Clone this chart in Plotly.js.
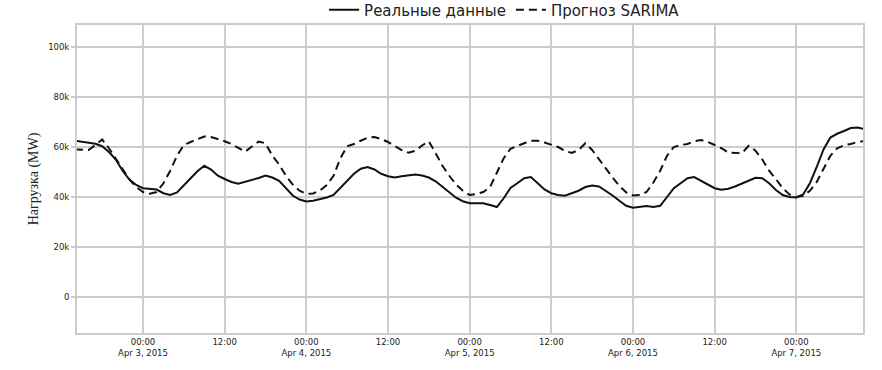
<!DOCTYPE html>
<html>
<head>
<meta charset="utf-8">
<script src="https://cdn.plot.ly/plotly-3.0.1.min.js"></script>
<style>html,body{margin:0;padding:0;background:#fff;}#chart{width:882px;height:370px;}</style>
</head>
<body>
<div id="chart"></div>
<script>
// Hourly series start time (first point) — one value per hour
const startTime = '2015-04-02T14:00:00';

// Actual load (MW), hourly from Apr 2 14:00 to Apr 7 10:00
const actual = [
  62500, 62200, 61800, 61300, 60300, 58000, 55000, 50500, 47000, 44800,
  43500, 43300, 43000, 41500, 40800, 41800, 44800, 47500, 50300, 52500,
  51000, 48500, 47200, 46000, 45300, 46000, 47000, 47600, 48600, 47800,
  46500, 43500, 40600, 39000, 38200, 38500, 39000, 39800, 40800, 43500,
  46600, 49300, 51300, 52000, 51000, 49300, 48300, 47800, 48300, 48600,
  49000, 48600, 47800, 46300, 44200, 42000, 39700, 38300, 37500, 37500,
  37500, 36800, 36000, 39500, 43600, 45500, 47500, 48000, 45500, 43000,
  41500, 40800, 40500, 41500, 42500, 44000, 44600, 44200, 42500, 40600,
  38500, 36500, 35700, 36000, 36400, 36000, 36500, 40000, 43500, 45500,
  47500, 48000, 46500, 44800, 43500, 42900, 43300, 44200, 45400, 46600,
  47700, 47500, 45500, 42800, 40800, 40000, 39800, 41000, 45500, 52000,
  59000, 63800, 65300, 66400, 67600, 67800, 67200
];

// SARIMA forecast (MW), same hours
const forecast = [
  59000, 58800, 58800, 60800, 63000, 59500, 55500, 51000, 47000, 44000,
  42000, 41300, 42000, 45500, 50500, 56500, 60800, 62000, 63000, 64200,
  64000, 63300, 62300, 61200, 59500, 58100, 60200, 62200, 61500, 56500,
  53000, 48500, 45000, 42500, 41300, 41400, 42600, 44800, 48500, 55500,
  60300, 61200, 62500, 63700, 64000, 63200, 62000, 60500, 58800, 57700,
  58500, 60600, 62300, 57500, 52500, 48500, 45000, 42500, 40800, 41200,
  42000, 44000, 50000, 55500, 59300, 60500, 61500, 62500, 62500, 61800,
  61000, 60000, 58500, 57600, 58800, 61500, 58800, 55000, 51500, 47800,
  44500, 41800, 40600, 40800, 42000, 45800, 50500, 56500, 60000, 60800,
  61200, 62300, 62800, 62000, 60800, 59500, 57800, 57500, 57500, 60500,
  58500, 55000, 50500, 47200, 43500, 41000, 40000, 40500, 42500, 46000,
  51500, 56500, 59500, 60700, 61200, 62000, 62400
];

const seriesNames = ['Реальные данные', 'Прогноз SARIMA'];

const xTickVals = ['2015-04-03 00:00', '2015-04-03 12:00', '2015-04-04 00:00', '2015-04-04 12:00',
                   '2015-04-05 00:00', '2015-04-05 12:00', '2015-04-06 00:00', '2015-04-06 12:00',
                   '2015-04-07 00:00'];
const xTickText = ['00:00<br>Apr 3, 2015', '12:00', '00:00<br>Apr 4, 2015', '12:00',
                   '00:00<br>Apr 5, 2015', '12:00', '00:00<br>Apr 6, 2015', '12:00',
                   '00:00<br>Apr 7, 2015'];
const yTickVals = [0, 20000, 40000, 60000, 80000, 100000];
const yTickText = ['0', '20k', '40k', '60k', '80k', '100k'];
const yTitle = 'Нагрузка (MW)';

function hourly(n) {
  const t0 = Date.parse(startTime + 'Z');
  const out = [];
  for (let i = 0; i < n; i++) {
    out.push(new Date(t0 + i * 3600000).toISOString().slice(0, 19).replace('T', ' '));
  }
  return out;
}
const times = hourly(actual.length);

const traces = [
  {x: times, y: actual, name: seriesNames[0], type: 'scatter', mode: 'lines',
   line: {color: '#111', width: 2}},
  {x: times, y: forecast, name: seriesNames[1], type: 'scatter', mode: 'lines',
   line: {color: '#111', width: 2, dash: '8px,5px'}}
];

const grid = '#cccccc';
const layout = {
  width: 882, height: 370,
  margin: {l: 77, r: 19, t: 25, b: 37, pad: 0, autoexpand: false},
  paper_bgcolor: '#fff', plot_bgcolor: '#fff',
  showlegend: true,
  legend: {orientation: 'h', x: 0.544, xanchor: 'center', y: 1.049, yanchor: 'middle',
           font: {family: 'DejaVu Sans', size: 15, color: '#222'}, bgcolor: 'rgba(0,0,0,0)'},
  xaxis: {
    type: 'date',
    range: ['2015-04-02 14:18', '2015-04-07 09:48'],
    tickvals: xTickVals, ticktext: xTickText,
    showgrid: true, gridcolor: grid, gridwidth: 2,
    showline: true, linecolor: grid, linewidth: 2, mirror: true,
    ticks: '', zeroline: false,
    tickfont: {family: 'DejaVu Sans', size: 8.5, color: '#222'}
  },
  yaxis: {
    range: [-14400, 108800],
    tickvals: yTickVals, ticktext: yTickText,
    showgrid: true, gridcolor: grid, gridwidth: 2,
    showline: true, linecolor: grid, linewidth: 2, mirror: true,
    ticks: 'outside', ticklen: 4, tickcolor: grid, tickwidth: 2,
    zeroline: false,
    tickfont: {family: 'DejaVu Sans', size: 8.5, color: '#222'},
    title: {text: yTitle, font: {family: 'Liberation Serif', size: 14, color: '#222'}, standoff: 6}
  }
};

Plotly.newPlot('chart', traces, layout, {staticPlot: true, displayModeBar: false});
</script>
</body>
</html>
